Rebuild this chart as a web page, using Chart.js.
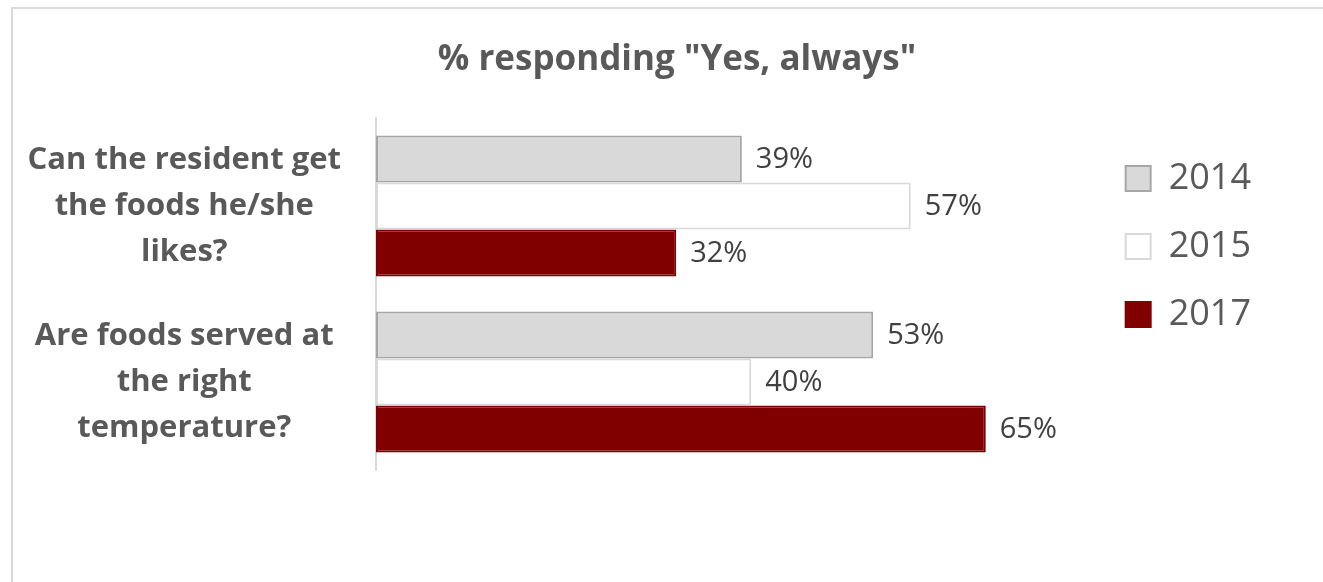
<!DOCTYPE html>
<html>
<head>
<meta charset="utf-8">
<script src="https://cdn.jsdelivr.net/npm/chart.js"></script>
<style>
  html, body { margin: 0; padding: 0; background: #fff; overflow: hidden; }
  #frame {
    position: absolute; left: 11px; top: 7px;
    width: 1328px; height: 600px;
    border: 2px solid #d9d9d9;
  }
  #chart { display: block; }
</style>
</head>
<body>
<div id="frame">
  <canvas id="chart" width="1328" height="573"></canvas>
</div>
<script>
const questions = [
  ['Can the resident get', 'the foods he/she', 'likes?'],
  ['Are foods served at', 'the right', 'temperature?']
];
const years = ['2014', '2015', '2017'];
const values2014 = [39, 53];
const values2015 = [57, 40];
const values2017 = [32, 65];

const fillColors = ['#d9d9d9', '#ffffff', '#800000'];
const edgeColors = ['#a6a6a6', '#d9d9d9', '#800000'];
const FONT = '"Open Sans"';

// percentage labels to the right of each bar
const barLabels = {
  id: 'barLabels',
  afterDatasetsDraw(chart) {
    const ctx = chart.ctx;
    ctx.save();
    ctx.font = '29px ' + FONT;
    ctx.fillStyle = '#404040';
    ctx.textAlign = 'left';
    ctx.textBaseline = 'middle';
    chart.data.datasets.forEach((ds, i) => {
      chart.getDatasetMeta(i).data.forEach((bar, j) => {
        ctx.fillText(ds.data[j] + '%', bar.x + 14, bar.y + 1);
      });
    });
    ctx.restore();
  }
};

// center the title on the whole frame, not just the part left of the legend
const titleFullWidth = {
  id: 'titleFullWidth',
  afterLayout(chart) {
    const t = chart.titleBlock;
    if (t) {
      t.left = 0;
      t.right = chart.width;
      t.width = chart.width;
    }
  }
};

const allValues = [values2014, values2015, values2017];

new Chart(document.getElementById('chart'), {
  type: 'bar',
  data: {
    labels: questions,
    datasets: years.map((y, i) => ({
      label: y,
      data: allValues[i],
      backgroundColor: fillColors[i],
      borderColor: edgeColors[i],
      borderWidth: 2,
      borderSkipped: false,
      categoryPercentage: 0.8,
      barPercentage: 1
    }))
  },
  options: {
    indexAxis: 'y',
    responsive: false,
    animation: false,
    layout: { padding: { left: 0, right: 80, top: 14, bottom: 112 } },
    scales: {
      x: { display: false, min: 0, max: 76.5 },
      y: {
        grid: { display: false },
        border: { display: true, color: '#d9d9d9', width: 2 },
        ticks: {
          crossAlign: 'center',
          padding: 27,
          color: '#595959',
          font: { family: FONT, size: 31, weight: 'bold', lineHeight: 1.48 }
        },
        afterFit(scale) { scale.width = 363; }
      }
    },
    plugins: {
      title: {
        display: true,
        text: '% responding "Yes, always"',
        color: '#595959',
        font: { family: FONT, size: 35, weight: 'bold' },
        padding: { top: 16, bottom: 37 }
      },
      legend: {
        position: 'right',
        labels: {
          boxWidth: 25,
          boxHeight: 25,
          padding: 32,
          color: '#595959',
          font: { family: FONT, size: 36 }
        }
      },
      tooltip: { enabled: false }
    }
  },
  plugins: [barLabels, titleFullWidth]
});
</script>
</body>
</html>
